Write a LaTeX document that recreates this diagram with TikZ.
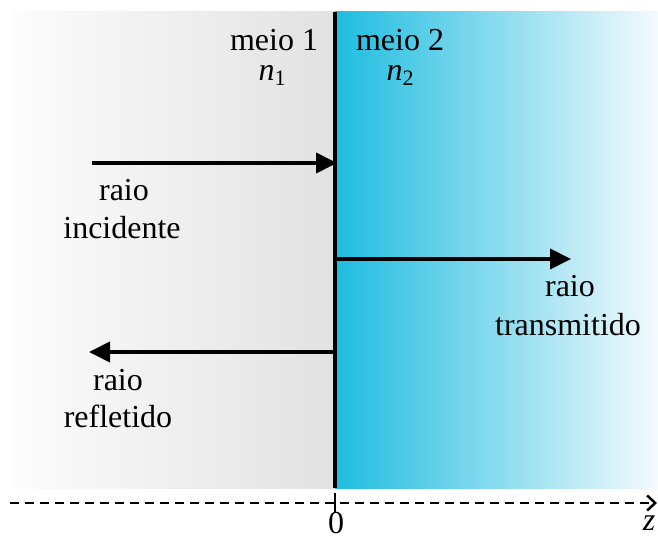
\documentclass[tikz,border=0pt]{standalone}
\usepackage{fontspec}
\setmainfont{Liberation Serif}
\usetikzlibrary{arrows.meta}
\definecolor{cyanA}{RGB}{30,189,224}
\definecolor{cyanB}{RGB}{245,250,253}
\definecolor{grayA}{RGB}{252,252,252}
\definecolor{grayB}{RGB}{226,226,226}
\newcommand{\nsub}[1]{{\itshape n}\raisebox{-5pt}{\fontsize{22}{24}\selectfont #1}}
\tikzset{
  lbl/.style={font=\fontsize{32}{36}\selectfont, align=center, inner sep=0pt},
  ray/.style={line width=4pt, -{Triangle[length=21pt,width=20pt]}},
}
\begin{document}
\begin{tikzpicture}[x=1pt,y=1pt]
\useasboundingbox (0,0) rectangle (658,538);
% backgrounds
\shade[left color=grayA, right color=grayB] (12,50) rectangle (335,526);
\shade[left color=cyanA, right color=cyanB] (335,50) rectangle (658,526);
% interface
\coordinate (itop) at (335,526);
\coordinate (ibot) at (335,50);
\draw[line width=3.5pt] (itop) -- (ibot);
% labels top
\node[lbl] (m1) at (274,498) {meio 1};
\node[lbl] (n1) at (272,463) {\nsub{1}};
\node[lbl] (m2) at (400,498) {meio 2};
\node[lbl] (n2) at (400,463) {\nsub{2}};
% rays
\coordinate (incA) at (92,375);
\coordinate (incB) at (337,375);
\draw[ray] (incA) -- (incB);
\node[lbl] (inc1) at (124,348) {raio};
\node[lbl] (inc2) at (122,310) {incidente};
\coordinate (trA) at (336,279);
\coordinate (trB) at (571,279);
\draw[ray] (trA) -- (trB);
\node[lbl] (tr1) at (570,252) {raio};
\node[lbl] (tr2) at (568,213) {transmitido};
\coordinate (rfA) at (336,186);
\coordinate (rfB) at (89,186);
\draw[ray] (rfA) -- (rfB);
\node[lbl] (rf1) at (118,158) {raio};
\node[lbl] (rf2) at (118,122) {refletido};
% axis
\coordinate (axA) at (10,35);
\coordinate (axB) at (657,35);
\draw[line width=2.5pt, dash pattern=on 9pt off 6pt, -{Straight Barb[length=8pt,width=15pt]}] (axA) -- (axB);
\coordinate (tkA) at (335,45);
\coordinate (tkB) at (335,25);
\draw[line width=2.5pt] (tkA) -- (tkB);
\node[lbl] (zero) at (336,15) {0};
\node[lbl] (z) at (649,15) {\itshape z};
\end{tikzpicture}
\end{document}
